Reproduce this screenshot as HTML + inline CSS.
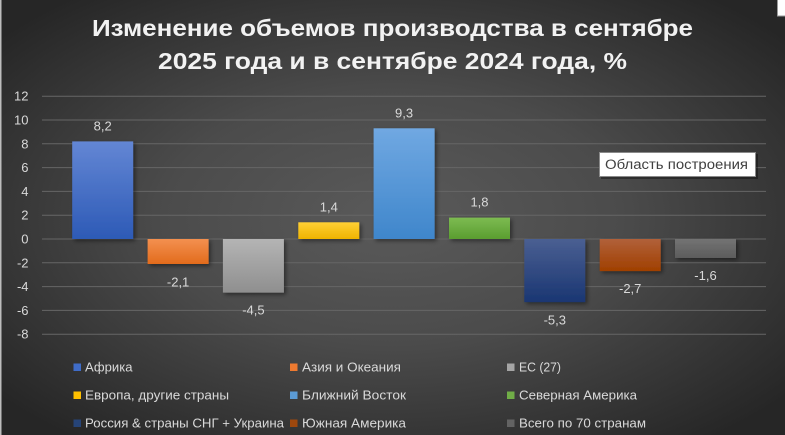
<!DOCTYPE html>
<html>
<head>
<meta charset="utf-8">
<style>
html,body{margin:0;padding:0;background:#2b2b2b;}
svg{display:block;}
text{font-family:"Liberation Sans","Noto Sans CJK SC",sans-serif;}
</style>
</head>
<body>
<svg width="785" height="435" viewBox="0 0 785 435" xmlns="http://www.w3.org/2000/svg">
<defs>
<radialGradient id="bg" cx="50%" cy="50%" r="65%">
<stop offset="0" stop-color="#5a5a5a"/>
<stop offset="0.45" stop-color="#4b4b4b"/>
<stop offset="1" stop-color="#262626"/>
</radialGradient>
<linearGradient id="g0" x1="0" y1="0" x2="0" y2="1"><stop offset="0" stop-color="#6386d4"/><stop offset="1" stop-color="#2d5ab6"/></linearGradient>
<linearGradient id="g1" x1="0" y1="0" x2="0" y2="1"><stop offset="0" stop-color="#f39050"/><stop offset="1" stop-color="#e26b1c"/></linearGradient>
<linearGradient id="g2" x1="0" y1="0" x2="0" y2="1"><stop offset="0" stop-color="#b4b4b4"/><stop offset="1" stop-color="#8f8f8f"/></linearGradient>
<linearGradient id="g3" x1="0" y1="0" x2="0" y2="1"><stop offset="0" stop-color="#ffd035"/><stop offset="1" stop-color="#efb300"/></linearGradient>
<linearGradient id="g4" x1="0" y1="0" x2="0" y2="1"><stop offset="0" stop-color="#70a8e2"/><stop offset="1" stop-color="#3f86cb"/></linearGradient>
<linearGradient id="g5" x1="0" y1="0" x2="0" y2="1"><stop offset="0" stop-color="#7dbb52"/><stop offset="1" stop-color="#5a9d2f"/></linearGradient>
<linearGradient id="g6" x1="0" y1="0" x2="0" y2="1"><stop offset="0" stop-color="#4a5f92"/><stop offset="1" stop-color="#1a3672"/></linearGradient>
<linearGradient id="g7" x1="0" y1="0" x2="0" y2="1"><stop offset="0" stop-color="#b1603a"/><stop offset="1" stop-color="#a04000"/></linearGradient>
<linearGradient id="g8" x1="0" y1="0" x2="0" y2="1"><stop offset="0" stop-color="#737373"/><stop offset="1" stop-color="#5c5c5c"/></linearGradient>
<filter id="sh" x="-20%" y="-20%" width="140%" height="140%">
<feDropShadow dx="2" dy="2" stdDeviation="2" flood-color="#000" flood-opacity="0.45"/>
</filter>
</defs>
<rect x="0" y="0" width="785" height="435" fill="url(#bg)"/>
<rect x="0" y="0" width="1.5" height="435" fill="#bdbdbd"/>

<!-- Title -->
<text x="92" y="36" font-size="23" font-weight="bold" fill="#f2f2f2" textLength="601" lengthAdjust="spacingAndGlyphs">Изменение объемов производства в сентябре</text>
<text x="158" y="69" font-size="23" font-weight="bold" fill="#f2f2f2" textLength="469" lengthAdjust="spacingAndGlyphs">2025 года и в сентябре 2024 года, %</text>

<!-- Gridlines -->
<g stroke="#666666" stroke-width="1">
<line x1="42" y1="96.2" x2="766" y2="96.2"/>
<line x1="42" y1="120" x2="766" y2="120"/>
<line x1="42" y1="143.8" x2="766" y2="143.8"/>
<line x1="42" y1="167.6" x2="766" y2="167.6"/>
<line x1="42" y1="191.4" x2="766" y2="191.4"/>
<line x1="42" y1="215.2" x2="766" y2="215.2"/>
<line x1="42" y1="239" x2="766" y2="239"/>
<line x1="42" y1="262.8" x2="766" y2="262.8"/>
<line x1="42" y1="286.6" x2="766" y2="286.6"/>
<line x1="42" y1="310.4" x2="766" y2="310.4"/>
<line x1="42" y1="334.2" x2="766" y2="334.2"/>
</g>

<!-- Y tick labels -->
<g font-size="13" fill="#d9d9d9" text-anchor="end" dominant-baseline="central">
<text x="28.5" y="96.2">12</text>
<text x="28.5" y="120">10</text>
<text x="28.5" y="143.8">8</text>
<text x="28.5" y="167.6">6</text>
<text x="28.5" y="191.4">4</text>
<text x="28.5" y="215.2">2</text>
<text x="28.5" y="239">0</text>
<text x="28.5" y="262.8">-2</text>
<text x="28.5" y="286.6">-4</text>
<text x="28.5" y="310.4">-6</text>
<text x="28.5" y="334.2">-8</text>
</g>

<!-- Bars -->
<g filter="url(#sh)">
<rect x="72.2" y="141.4" width="61" height="97.6" fill="url(#g0)"/>
<rect x="147.6" y="239" width="61" height="25" fill="url(#g1)"/>
<rect x="222.9" y="239" width="61" height="53.6" fill="url(#g2)"/>
<rect x="298.3" y="222.3" width="61" height="16.7" fill="url(#g3)"/>
<rect x="373.6" y="128.3" width="61" height="110.7" fill="url(#g4)"/>
<rect x="449" y="217.6" width="61" height="21.4" fill="url(#g5)"/>
<rect x="524.3" y="239" width="61" height="63.1" fill="url(#g6)"/>
<rect x="599.7" y="239" width="61" height="32.1" fill="url(#g7)"/>
<rect x="675" y="239" width="61" height="19" fill="url(#g8)"/>
</g>

<!-- Data labels -->
<g font-size="13" fill="#d9d9d9" text-anchor="middle" dominant-baseline="central">
<text x="102.7" y="126">8,2</text>
<text x="178.1" y="282">-2,1</text>
<text x="253.4" y="310">-4,5</text>
<text x="328.8" y="207">1,4</text>
<text x="404.1" y="113">9,3</text>
<text x="479.5" y="202">1,8</text>
<text x="554.8" y="320">-5,3</text>
<text x="630.2" y="288.5">-2,7</text>
<text x="705.5" y="275.5">-1,6</text>
</g>

<!-- Tooltip -->
<rect x="601" y="154" width="157" height="25" fill="#000" opacity="0.35"/>
<rect x="599.5" y="152.5" width="156" height="24" fill="#ffffff" stroke="#8a8a8a" stroke-width="1"/>
<text x="605" y="169" font-size="13.5" fill="#404040" textLength="143" lengthAdjust="spacingAndGlyphs">Область построения</text>

<!-- Top-right box -->
<rect x="777.5" y="-1" width="9" height="17" fill="#ffffff" stroke="#9a9a9a" stroke-width="1"/>

<!-- Legend -->
<g>
<rect x="73.5" y="363.5" width="7.5" height="7.5" fill="#3f6cc8"/>
<rect x="290" y="363.5" width="7.5" height="7.5" fill="#ee7a30"/>
<rect x="507" y="363.5" width="7.5" height="7.5" fill="#a5a5a5"/>
<rect x="73.5" y="391.5" width="7.5" height="7.5" fill="#ffc000"/>
<rect x="290" y="391.5" width="7.5" height="7.5" fill="#5b9bd5"/>
<rect x="507" y="391.5" width="7.5" height="7.5" fill="#70ad47"/>
<rect x="73.5" y="419.5" width="7.5" height="7.5" fill="#264478"/>
<rect x="290" y="419.5" width="7.5" height="7.5" fill="#9e480e"/>
<rect x="507" y="419.5" width="7.5" height="7.5" fill="#636363"/>
</g>
<g font-size="13" fill="#d9d9d9">
<text x="85" y="371.5" textLength="47.5" lengthAdjust="spacingAndGlyphs">Африка</text>
<text x="302" y="371.5" textLength="99" lengthAdjust="spacingAndGlyphs">Азия и Океания</text>
<text x="519" y="371.5" textLength="42" lengthAdjust="spacingAndGlyphs">ЕС (27)</text>
<text x="85" y="399.5" textLength="144" lengthAdjust="spacingAndGlyphs">Европа, другие страны</text>
<text x="302" y="399.5" textLength="104" lengthAdjust="spacingAndGlyphs">Ближний Восток</text>
<text x="519" y="399.5" textLength="118" lengthAdjust="spacingAndGlyphs">Северная Америка</text>
<text x="85" y="427.5" textLength="199" lengthAdjust="spacingAndGlyphs">Россия &amp; страны СНГ + Украина</text>
<text x="302" y="427.5" textLength="104" lengthAdjust="spacingAndGlyphs">Южная Америка</text>
<text x="519" y="427.5" textLength="127" lengthAdjust="spacingAndGlyphs">Всего по 70 странам</text>
</g>
</svg>
</body>
</html>
